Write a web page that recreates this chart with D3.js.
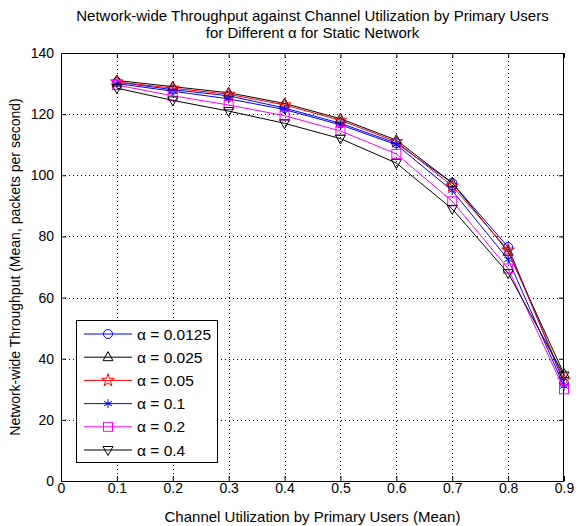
<!DOCTYPE html>
<html>
<head>
<meta charset="utf-8">
<script src="https://cdn.jsdelivr.net/npm/d3@7"></script>
<style>
  body { margin: 0; background: #fff; }
  svg { font-family: "Liberation Sans", Arial, sans-serif; }
</style>
</head>
<body>
<div id="chart"></div>
<script>
// Data
const utilization = [0.1, 0.2, 0.3, 0.4, 0.5, 0.6, 0.7, 0.8, 0.9];
const alphaLabels = ["0.0125", "0.025", "0.05", "0.1", "0.2", "0.4"];
const thr_00125 = [130.5, 128, 126, 122, 117, 110.5, 97.5, 76.5, 32];
const thr_0025 = [131, 129, 127, 123.5, 118.5, 111.5, 97.5, 75, 35];
const thr_005 = [130.5, 128.5, 126.5, 123, 118, 111, 96.5, 75.5, 33];
const thr_01 = [130, 127.5, 125, 121.5, 116.5, 110, 95, 72.5, 31];
const thr_02 = [129.5, 126, 123, 119.5, 114.5, 107, 91.5, 69.5, 30];
const thr_04 = [128.5, 124.5, 121, 117, 112, 104, 89, 68, 34.5];
const xTicks = [0, 0.1, 0.2, 0.3, 0.4, 0.5, 0.6, 0.7, 0.8, 0.9];
const yTicks = [0, 20, 40, 60, 80, 100, 120, 140];

const series = [
  { label: alphaLabels[0], values: thr_00125, color: "#0000ff", marker: "circle" },
  { label: alphaLabels[1], values: thr_0025, color: "#000000", marker: "triUp" },
  { label: alphaLabels[2], values: thr_005, color: "#ff0000", marker: "star" },
  { label: alphaLabels[3], values: thr_01, color: "#0000ff", marker: "asterisk" },
  { label: alphaLabels[4], values: thr_02, color: "#ff00ff", marker: "square" },
  { label: alphaLabels[5], values: thr_04, color: "#000000", marker: "triDown" }
];

const W = 576, H = 526;
const m = { left: 61, right: 12, top: 53, bottom: 45 };
const w = W - m.left - m.right;
const h = H - m.top - m.bottom;

const svg = d3.select("#chart").append("svg")
  .attr("width", W).attr("height", H);

const x = d3.scaleLinear().domain([0, 0.9]).range([m.left, m.left + w]);
const y = d3.scaleLinear().domain([0, 140]).range([m.top + h, m.top]);

// grid
const grid = svg.append("g")
  .attr("stroke", "#000").attr("stroke-width", 1)
  .attr("stroke-dasharray", "1,3").attr("shape-rendering", "crispEdges");
xTicks.slice(1, -1).forEach(t => {
  grid.append("line").attr("x1", Math.round(x(t)) + 0.5).attr("x2", Math.round(x(t)) + 0.5)
    .attr("y1", m.top).attr("y2", m.top + h);
});
yTicks.slice(1, -1).forEach(t => {
  grid.append("line").attr("y1", Math.round(y(t)) + 0.5).attr("y2", Math.round(y(t)) + 0.5)
    .attr("x1", m.left).attr("x2", m.left + w);
});

// axes with inward ticks
const xAxis = d3.axisBottom(x).tickValues(xTicks).tickFormat(d3.format("")).tickSize(-5).tickPadding(2);
const yAxis = d3.axisLeft(y).tickValues(yTicks).tickSize(-5).tickPadding(7);

svg.append("g").attr("transform", `translate(0,${m.top + h})`).call(xAxis)
  .call(g => g.select(".domain").remove())
  .selectAll("text").attr("font-size", 14).attr("fill", "#000");
svg.append("g").attr("transform", `translate(${m.left},0)`).call(yAxis)
  .call(g => g.select(".domain").remove())
  .selectAll("text").attr("font-size", 14).attr("fill", "#000");
// top/right ticks
svg.append("g").attr("transform", `translate(0,${m.top})`)
  .call(d3.axisTop(x).tickValues(xTicks).tickSize(-5).tickFormat(""))
  .call(g => g.select(".domain").remove());
svg.append("g").attr("transform", `translate(${m.left + w},0)`)
  .call(d3.axisRight(y).tickValues(yTicks).tickSize(-5).tickFormat(""))
  .call(g => g.select(".domain").remove());

svg.append("rect").attr("x", m.left + 0.5).attr("y", m.top + 0.5)
  .attr("width", w - 1).attr("height", h).attr("fill", "none")
  .attr("stroke", "#000").attr("shape-rendering", "crispEdges");

// markers
function drawMarker(g, type, cx, cy, color) {
  const s = 4.5;
  if (type === "circle") {
    g.append("circle").attr("cx", cx).attr("cy", cy).attr("r", s)
      .attr("fill", "none").attr("stroke", color);
  } else if (type === "square") {
    g.append("rect").attr("x", cx - s).attr("y", cy - s).attr("width", 2 * s).attr("height", 2 * s)
      .attr("fill", "none").attr("stroke", color);
  } else if (type === "triUp" || type === "triDown") {
    const d = type === "triUp" ? 1 : -1;
    g.append("path").attr("d", `M${cx},${cy - d * 5.5}L${cx + 5},${cy + d * 3.5}L${cx - 5},${cy + d * 3.5}Z`)
      .attr("fill", "none").attr("stroke", color);
  } else if (type === "star") {
    g.append("path").attr("d", d3.symbol(d3.symbolStar, 50)()).attr("transform", `translate(${cx},${cy})`)
      .attr("fill", "none").attr("stroke", color);
  } else if (type === "asterisk") {
    const p = d3.path();
    p.moveTo(cx, cy - s); p.lineTo(cx, cy + s);
    p.moveTo(cx - s * 0.87, cy - s * 0.5); p.lineTo(cx + s * 0.87, cy + s * 0.5);
    p.moveTo(cx - s * 0.87, cy + s * 0.5); p.lineTo(cx + s * 0.87, cy - s * 0.5);
    g.append("path").attr("d", p.toString()).attr("stroke", color).attr("fill", "none");
  }
}

const line = d3.line().x((d, i) => x(utilization[i])).y(d => y(d));

series.forEach(s => {
  const g = svg.append("g");
  g.append("path").datum(s.values).attr("d", line)
    .attr("fill", "none").attr("stroke", s.color).attr("stroke-width", 1);
  s.values.forEach((v, i) => drawMarker(g, s.marker, x(utilization[i]), y(v), s.color));
});

// legend
const lg = svg.append("g");
const lx = 76, ly = 320, lw = 141, lh = 142;
lg.append("rect").attr("x", lx + 0.5).attr("y", ly + 0.5).attr("width", lw).attr("height", lh)
  .attr("fill", "#fff").attr("stroke", "#000");
series.forEach((s, i) => {
  const cy = ly + 14 + i * 23.2;
  lg.append("line").attr("x1", lx + 8).attr("x2", lx + 56).attr("y1", cy).attr("y2", cy)
    .attr("stroke", s.color);
  drawMarker(lg, s.marker, lx + 32, cy, s.color);
  lg.append("text").attr("x", lx + 61).attr("y", cy + 5.5).attr("font-size", 15.5)
    .text(`α = ${s.label}`);
});

// title and labels
svg.append("text").attr("x", m.left + w / 2).attr("y", 21).attr("text-anchor", "middle")
  .attr("font-size", 15).text("Network-wide Throughput against Channel Utilization by Primary Users");
svg.append("text").attr("x", m.left + w / 2).attr("y", 38).attr("text-anchor", "middle")
  .attr("font-size", 15).text("for Different α for Static Network");
svg.append("text").attr("x", m.left + w / 2).attr("y", 522).attr("text-anchor", "middle")
  .attr("font-size", 15).text("Channel Utilization by Primary Users (Mean)");
svg.append("text").attr("transform", `translate(20,${m.top + h / 2}) rotate(-90)`)
  .attr("text-anchor", "middle").attr("font-size", 14)
  .text("Network-wide Throughput (Mean, packets per second)");
</script>
</body>
</html>
